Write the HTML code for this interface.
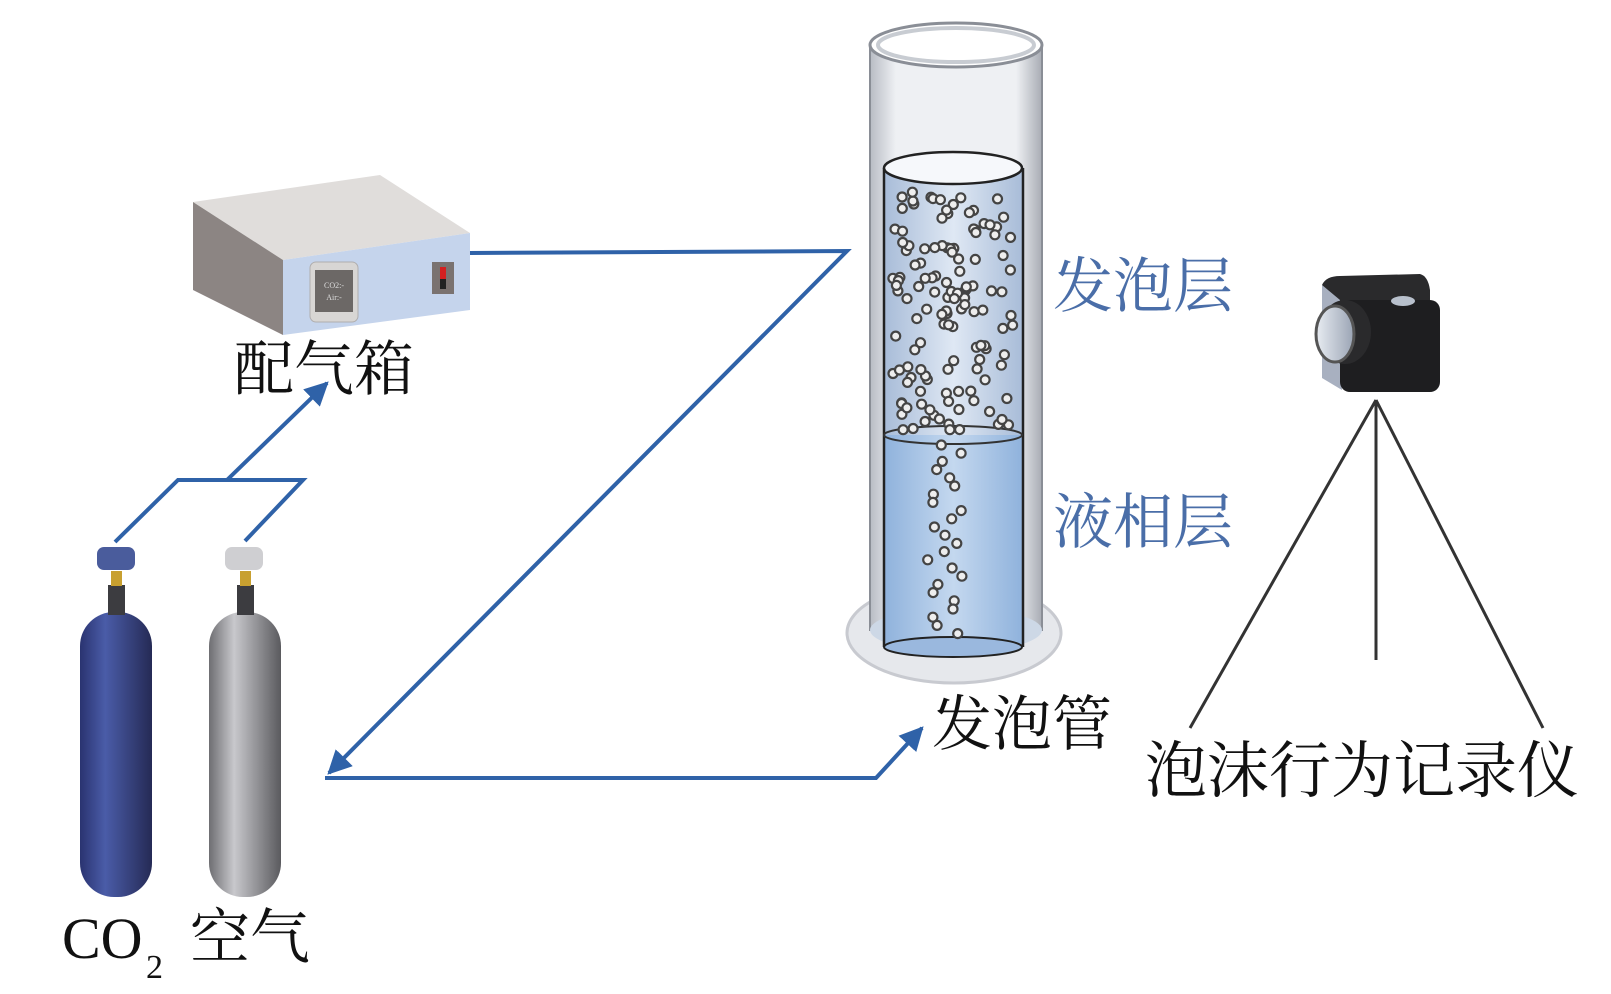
<!DOCTYPE html>
<html><head><meta charset="utf-8"><style>
html,body{margin:0;padding:0;background:#fff;width:1611px;height:994px;overflow:hidden}
svg{display:block}
</style></head><body>
<svg id="s" width="1611" height="994" viewBox="0 0 1611 994" xmlns="http://www.w3.org/2000/svg">
<defs>
<linearGradient id="co2" x1="0" x2="1"><stop offset="0" stop-color="#2a3370"/><stop offset="0.35" stop-color="#4a5ca8"/><stop offset="1" stop-color="#252a55"/></linearGradient>
<linearGradient id="air" x1="0" x2="1"><stop offset="0" stop-color="#6e6e72"/><stop offset="0.35" stop-color="#c8c8cc"/><stop offset="1" stop-color="#5a5a5e"/></linearGradient>
<linearGradient id="glass" x1="0" x2="1"><stop offset="0" stop-color="#b8bcc4"/><stop offset="0.15" stop-color="#eef0f3"/><stop offset="0.85" stop-color="#eef0f3"/><stop offset="1" stop-color="#a8acb4"/></linearGradient>
<linearGradient id="foam" x1="0" x2="1"><stop offset="0" stop-color="#a8bcd8"/><stop offset="0.5" stop-color="#dfe8f4"/><stop offset="1" stop-color="#a8bcd8"/></linearGradient>
<linearGradient id="liq" x1="0" x2="1"><stop offset="0" stop-color="#8fb2dc"/><stop offset="0.5" stop-color="#c4d8ef"/><stop offset="1" stop-color="#8fb2dc"/></linearGradient>
<linearGradient id="lens" x1="0" x2="1"><stop offset="0" stop-color="#e8ecf2"/><stop offset="1" stop-color="#9aa4b4"/></linearGradient>
<marker id="ah" viewBox="0 0 10 10" refX="9" refY="5" markerWidth="6" markerHeight="6" orient="auto"><path d="M0,0 L10,5 L0,10 z" fill="#2f62a8"/></marker>
</defs>

<!-- gas box -->
<polygon points="193,202 380,175 470,233 283,260" fill="#e0dddb"/>
<polygon points="193,202 283,260 283,335 193,290" fill="#8c8583"/>
<polygon points="283,260 470,233 470,310 283,335" fill="#c5d4ec"/>
<rect x="310" y="262" width="48" height="60" rx="6" fill="#d8d6d4" stroke="#b0aeae"/>
<rect x="315" y="270" width="38" height="42" fill="#6c6866"/>
<text x="334" y="288" font-family="Liberation Serif,serif" font-size="8" fill="#ddd" text-anchor="middle">CO2:-</text>
<text x="334" y="300" font-family="Liberation Serif,serif" font-size="8" fill="#ddd" text-anchor="middle">Air:-</text>
<rect x="432" y="262" width="22" height="32" fill="#7a7270"/>
<rect x="440" y="267" width="6" height="12" fill="#d42020"/><rect x="440" y="279" width="6" height="10" fill="#222"/>

<text x="234" y="390" font-family="Liberation Serif,'Noto Serif CJK SC',serif" font-size="60" fill="#111">配气箱</text>

<!-- tube -->
<ellipse cx="954" cy="633" rx="107" ry="50" fill="#e6e8ec" stroke="#c8cad0" stroke-width="3"/>
<rect x="870" y="45" width="172" height="585" fill="url(#glass)" stroke="#8a8e96" stroke-width="2"/>
<ellipse cx="956" cy="630" rx="86" ry="22" fill="#cdd8e6"/>
<rect x="884" y="168" width="139" height="267" fill="url(#foam)"/>
<rect x="884" y="435" width="139" height="212" fill="url(#liq)"/>
<ellipse cx="953" cy="647" rx="69" ry="10" fill="#9ab8de" stroke="#222" stroke-width="2"/>
<line x1="884" y1="168" x2="884" y2="647" stroke="#222" stroke-width="2.5"/>
<line x1="1023" y1="168" x2="1023" y2="647" stroke="#222" stroke-width="2.5"/>
<ellipse cx="953" cy="435" rx="69" ry="9" fill="none" stroke="#333" stroke-width="2"/>
<ellipse cx="953" cy="168" rx="69" ry="16" fill="#f6f8fb" stroke="#222" stroke-width="2.5"/>
<ellipse cx="956" cy="45" rx="86" ry="22" fill="#fff" stroke="#8a8e96" stroke-width="3"/>
<ellipse cx="956" cy="45" rx="78" ry="17" fill="none" stroke="#c8ccd2" stroke-width="4"/>
<g id="bub"></g>

<text x="1053" y="307" font-family="Liberation Serif,'Noto Serif CJK SC',serif" font-size="60" fill="#4a6ea8">发泡层</text>
<text x="1053" y="543" font-family="Liberation Serif,'Noto Serif CJK SC',serif" font-size="60" fill="#4a6ea8">液相层</text>
<text x="932" y="745" font-family="Liberation Serif,'Noto Serif CJK SC',serif" font-size="60" fill="#111">发泡管</text>

<!-- connectors -->
<g fill="none" stroke="#2f62a8" stroke-width="4">
<polyline points="470,253 847,251 329,773" marker-end="url(#ah)"/>
<polyline points="325,778 876,778 922,728" marker-end="url(#ah)"/>
<polyline points="115,542 178,480 303,480 245,541"/>
<line x1="227" y1="480" x2="327" y2="383" marker-end="url(#ah)"/>
</g>

<!-- cylinders -->
<rect x="80" y="612" width="72" height="285" rx="34" fill="url(#co2)"/>
<rect x="108" y="585" width="17" height="30" fill="#3c3c40"/>
<rect x="111" y="571" width="11" height="15" fill="#c8a030"/>
<rect x="97" y="547" width="38" height="23" rx="7" fill="#4a5c9c"/>
<rect x="209" y="612" width="72" height="285" rx="34" fill="url(#air)"/>
<rect x="237" y="585" width="17" height="30" fill="#3c3c40"/>
<rect x="240" y="571" width="11" height="15" fill="#c8a030"/>
<rect x="225" y="547" width="38" height="23" rx="7" fill="#cfcfd2"/>

<text x="62" y="958" font-family="Liberation Serif,serif" font-size="58" fill="#111">CO</text>
<text x="146" y="978" font-family="Liberation Serif,serif" font-size="34" fill="#111">2</text>
<text x="190" y="958" font-family="Liberation Serif,'Noto Serif CJK SC',serif" font-size="60" fill="#111">空气</text>

<!-- camera -->
<path d="M1322,285 Q1326,276 1340,276 L1420,274 Q1428,276 1430,290 L1430,300 L1340,308 Z" fill="#2a2a2c"/>
<path d="M1322,285 L1340,300 L1342,390 L1322,378 Z" fill="#a8b0c0"/>
<rect x1="0" x="1340" y="300" width="100" height="92" rx="10" fill="#1e1e20"/>
<ellipse cx="1345" cy="332" rx="26" ry="32" fill="#2a2a2c"/>
<ellipse cx="1335" cy="334" rx="19" ry="28" fill="url(#lens)" stroke="#555" stroke-width="3"/>
<ellipse cx="1403" cy="301" rx="12" ry="5" fill="#b8c0cc"/>

<g stroke="#333" stroke-width="3">
<line x1="1376" y1="400" x2="1190" y2="728"/>
<line x1="1376" y1="400" x2="1376" y2="660"/>
<line x1="1376" y1="400" x2="1543" y2="728"/>
</g>
<text x="1145" y="792" font-family="Liberation Serif,'Noto Serif CJK SC',serif" font-size="62" fill="#111">泡沫行为记录仪</text>
</svg>
<script>
(function(){
var g=document.getElementById('bub'),s=7,out='';
function r(){s=(s*9301+49297)%233280;return s/233280;}
for(var i=0;i<130;i++){var x=892+r()*124,y=192+r()*240;out+='<circle cx="'+x.toFixed(1)+'" cy="'+y.toFixed(1)+'" r="4.5" fill="#eee" stroke="#444" stroke-width="2.2"/>';}
for(var j=0;j<24;j++){var y2=445+j*8.2,x2=940+Math.sin(j*1.7)*14+r()*10;out+='<circle cx="'+x2.toFixed(1)+'" cy="'+y2.toFixed(1)+'" r="4.5" fill="#eee" stroke="#444" stroke-width="2.2"/>';}
g.innerHTML=out;
})();
</script>
</body></html>
